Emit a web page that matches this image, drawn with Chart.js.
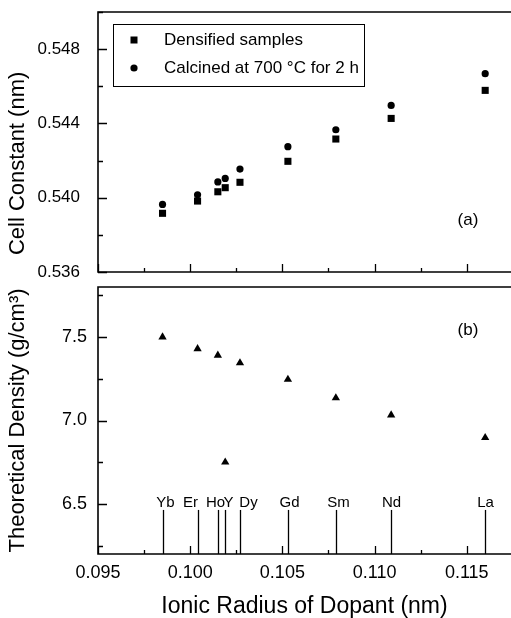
<!DOCTYPE html>
<html>
<head>
<meta charset="utf-8">
<script src="https://cdn.jsdelivr.net/npm/chart.js@4/dist/chart.umd.min.js"></script>
<style>
  body { margin: 0; background: #fff; }
  #wrap { position: relative; width: 511px; height: 618px; overflow: hidden; background: #fff; }
  canvas { position: absolute; left: 0; }
  #chartA { top: 0; }
  #chartB { top: 280px; }
</style>
</head>
<body>
<div id="wrap">
  <canvas id="chartA" width="511" height="285"></canvas>
  <canvas id="chartB" width="511" height="338"></canvas>
</div>
<script>
// dopant ions and their ionic radius (nm)
const dopants = ['Yb', 'Er', 'Ho', 'Y', 'Dy', 'Gd', 'Sm', 'Nd', 'La'];
const ionicRadius = [0.0985, 0.1004, 0.1015, 0.1019, 0.1027, 0.1053, 0.1079, 0.1109, 0.1160];

// (a) cell constant, nm
const densified = [0.53916, 0.53982, 0.54032, 0.54054, 0.54083, 0.54196, 0.54316, 0.54427, 0.54578];
const calcined = [0.53964, 0.54016, 0.54085, 0.54104, 0.54154, 0.54275, 0.54366, 0.54497, 0.54668];

// (b) theoretical density, g/cm3
const theoDensity = [7.50, 7.43, 7.39, 6.75, 7.345, 7.246, 7.135, 7.032, 6.897];

// tick labels
const xTicks = [0.095, 0.100, 0.105, 0.110, 0.115];
const yTicksA = [0.536, 0.540, 0.544, 0.548];
const yTicksB = [6.5, 7.0, 7.5];

const FONT = '"Liberation Sans", Arial, Helvetica, sans-serif';
const X_MIN = 0.095, X_MAX = 0.1174;

// frame + inward ticks (major and minor halfway)
const frame = {
  id: 'frame',
  afterDraw(chart, args, opts) {
    const { ctx, chartArea: { left, right, top, bottom }, scales: { x, y } } = chart;
    ctx.save();
    ctx.strokeStyle = '#000';
    ctx.lineWidth = 1.6;
    ctx.beginPath();
    ctx.moveTo(right + 2, top);
    ctx.lineTo(left, top);
    ctx.lineTo(left, bottom);
    ctx.lineTo(right + 2, bottom);
    ctx.stroke();

    ctx.lineWidth = 1.3;
    ctx.beginPath();
    const xStep = xTicks[1] - xTicks[0];
    xTicks.forEach(v => {
      [[v, 8], [v - xStep / 2, 4], [v + xStep / 2, 4]].forEach(([t, len]) => {
        if (t < x.min - 1e-9 || t > x.max + 1e-9) return;
        const px = Math.round(x.getPixelForValue(t)) + 0.5;
        ctx.moveTo(px, bottom);
        ctx.lineTo(px, bottom - len);
      });
    });
    const yT = opts.yTicks;
    const yStep = yT[1] - yT[0];
    yT.forEach(v => {
      [[v, 9], [v - yStep / 2, 5], [v + yStep / 2, 5]].forEach(([t, len]) => {
        if (t < y.min - 1e-9 || t > y.max + 1e-9) return;
        const py = Math.round(y.getPixelForValue(t)) + 0.5;
        ctx.moveTo(left, py);
        ctx.lineTo(left + len, py);
      });
    });
    ctx.stroke();
    ctx.restore();
  }
};

// legend box in panel (a) and the (a) tag
const legendA = {
  id: 'legendA',
  afterDraw(chart) {
    const { ctx, chartArea: { left, right, top, bottom } } = chart;
    const bx = left + 15, by = top + 12, bw = 251, bh = 62;
    ctx.save();
    ctx.strokeStyle = '#000';
    ctx.lineWidth = 1;
    ctx.strokeRect(bx + 0.5, by + 0.5, bw, bh);
    ctx.fillStyle = '#000';
    // square marker
    ctx.fillRect(bx + 21 - 3.5, by + 16 - 3.5, 7, 7);
    // circle marker
    ctx.beginPath();
    ctx.arc(bx + 21, by + 44, 3.6, 0, Math.PI * 2);
    ctx.fill();
    ctx.font = '17px ' + FONT;
    ctx.textBaseline = 'middle';
    ctx.textAlign = 'left';
    ctx.fillText('Densified samples', bx + 51, by + 16);
    ctx.fillText('Calcined at 700 \u00B0C for 2 h', bx + 51, by + 44);
    ctx.textAlign = 'center';
    ctx.fillText('(a)', right - 43, bottom - 52);
    ctx.restore();
  }
};

// dopant marker lines and names in panel (b)
const dopantLines = {
  id: 'dopantLines',
  afterDatasetsDraw(chart) {
    const { ctx, chartArea: { right, top }, scales: { x, y } } = chart;
    const labelShift = [2, -8, -3, 3, 8, 1, 2, 0, 0];
    ctx.save();
    ctx.strokeStyle = '#000';
    ctx.lineWidth = 1.3;
    ctx.fillStyle = '#000';
    ctx.font = '15px ' + FONT;
    ctx.textAlign = 'center';
    ctx.textBaseline = 'alphabetic';
    ionicRadius.forEach((r, i) => {
      const px = Math.round(x.getPixelForValue(r)) + 0.5;
      ctx.beginPath();
      ctx.moveTo(px, y.getPixelForValue(y.min));
      ctx.lineTo(px, y.getPixelForValue(6.464));
      ctx.stroke();
      ctx.fillText(dopants[i], px + labelShift[i], y.getPixelForValue(6.482));
    });
    ctx.font = '17px ' + FONT;
    ctx.textBaseline = 'middle';
    ctx.fillText('(b)', right - 43, top + 43);
    ctx.restore();
  }
};

function toPoints(ys) {
  return ionicRadius.map((r, i) => ({ x: r, y: ys[i] }));
}

const configA = {
  type: 'scatter',
  data: {
    datasets: [
      { label: 'Densified samples', data: toPoints(densified), pointStyle: 'rect', pointRadius: 5,
        backgroundColor: '#000', borderColor: '#000', borderWidth: 0 },
      { label: 'Calcined at 700 \u00B0C for 2 h', data: toPoints(calcined), pointStyle: 'circle', pointRadius: 3.6,
        backgroundColor: '#000', borderColor: '#000', borderWidth: 0 }
    ]
  },
  options: {
    responsive: false,
    animation: false,
    layout: { autoPadding: false, padding: { top: 12, bottom: 13, left: 0, right: 0 } },
    plugins: { legend: { display: false }, tooltip: { enabled: false }, frame: { yTicks: yTicksA } },
    scales: {
      x: { type: 'linear', min: X_MIN, max: X_MAX, display: false },
      y: {
        type: 'linear', min: 0.536, max: 0.550,
        afterBuildTicks: s => { s.ticks = yTicksA.map(v => ({ value: v })); },
        afterFit: s => { s.width = 98; s.paddingTop = 0; s.paddingBottom = 0; },
        grid: { display: false, drawTicks: false },
        border: { display: false },
        ticks: { padding: 18, color: '#000', font: { size: 17, family: FONT }, callback: v => v.toFixed(3) },
        // trailing spaces push the visible title down, as in the original figure
        title: { display: true, text: 'Cell Constant (nm)       ', color: '#000',
                 font: { size: 22, family: FONT }, padding: { top: 5, bottom: 0 } }
      }
    }
  },
  plugins: [frame, legendA]
};

const configB = {
  type: 'scatter',
  data: {
    datasets: [
      { label: 'Theoretical density', data: toPoints(theoDensity), pointStyle: 'triangle', pointRadius: 4.8,
        backgroundColor: '#000', borderColor: '#000', borderWidth: 0 }
    ]
  },
  options: {
    responsive: false,
    animation: false,
    layout: { autoPadding: false, padding: { top: 7, bottom: 0, left: 0, right: 0 } },
    plugins: { legend: { display: false }, tooltip: { enabled: false }, frame: { yTicks: yTicksB } },
    scales: {
      x: {
        type: 'linear', min: X_MIN, max: X_MAX,
        afterBuildTicks: s => { s.ticks = xTicks.map(v => ({ value: v })); },
        afterFit: s => { s.height = 64; s.paddingLeft = 0; s.paddingRight = 0; },
        grid: { display: false, drawTicks: false },
        border: { display: false },
        ticks: { padding: 8, color: '#000', maxRotation: 0, autoSkip: false,
                 font: { size: 18, family: FONT }, callback: v => v.toFixed(3) },
        title: { display: true, text: 'Ionic Radius of Dopant (nm)', color: '#000',
                 font: { size: 23, family: FONT, lineHeight: 1 }, padding: { top: 0, bottom: 0 } }
      },
      y: {
        type: 'linear', min: 6.2, max: 7.8,
        afterBuildTicks: s => { s.ticks = yTicksB.map(v => ({ value: v })); },
        afterFit: s => { s.width = 98; s.paddingTop = 0; s.paddingBottom = 0; },
        grid: { display: false, drawTicks: false },
        border: { display: false },
        ticks: { padding: 11, color: '#000', font: { size: 18, family: FONT }, callback: v => v.toFixed(1) },
        title: { display: true, text: 'Theoretical Density (g/cm\u00B3)', color: '#000',
                 font: { size: 22, family: FONT }, padding: { top: 5, bottom: 0 } }
      }
    }
  },
  plugins: [frame, dopantLines]
};

new Chart(document.getElementById('chartA'), configA);
new Chart(document.getElementById('chartB'), configB);
</script>
</body>
</html>
